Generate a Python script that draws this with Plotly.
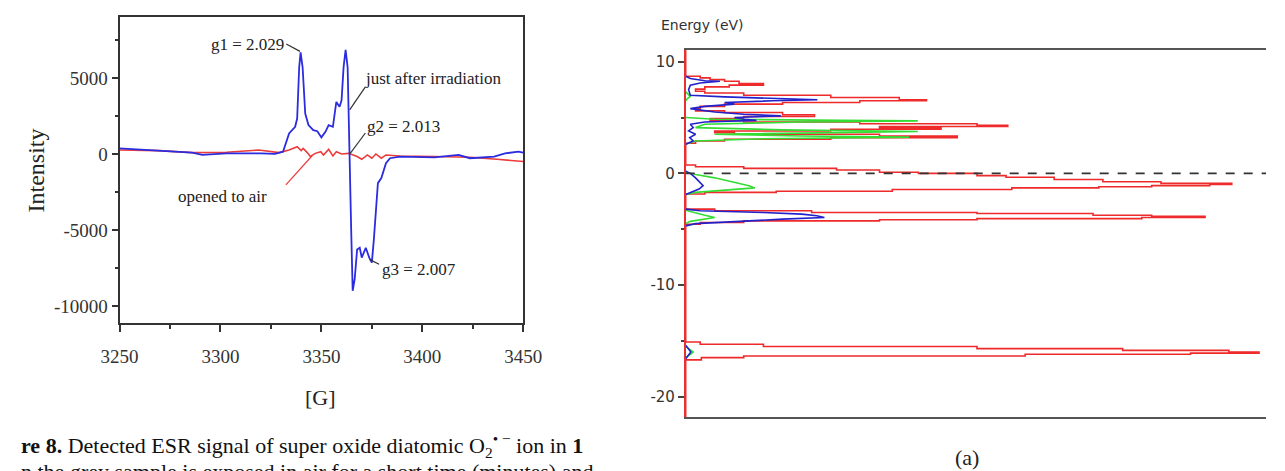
import plotly.graph_objects as go

# ---------------- ESR spectrum (left panel) ----------------
field_irr = [3250, 3268.9, 3286, 3291, 3303, 3320, 3327, 3331, 3334, 3337, 3338, 3339, 3339.7,
             3340.7, 3342, 3343.6, 3346, 3348, 3350, 3352, 3353.6, 3355.7, 3357.4, 3359, 3360,
             3361, 3362, 3363, 3363.4, 3364, 3364.8, 3365.5, 3366.5, 3367.7, 3369, 3370, 3372,
             3373.7, 3375, 3376, 3378, 3379.7, 3382, 3384, 3389, 3406, 3418, 3423.5, 3435.6,
             3441, 3447.6, 3450]
int_irr = [370, 220, 90, -65, 40, 40, 0, 150, 1350, 1790, 2330, 5700, 6690,
           5700, 2660, 1900, 1570, 1500, 1090, 1460, 1900, 1790, 3420, 3100, 3530,
           5710, 6850, 5700, 2880, -170, -5190, -9000, -8240, -6280, -6170, -6820, -6170,
           -6820, -7150, -5620, -1920, -1590, -610, -280, -170, -220, -65, -280, -170,
           40, 150, 90]

field_air = [3250, 3269, 3286, 3303, 3319, 3329, 3334, 3338, 3340, 3341, 3343, 3344.5, 3347,
             3349.7, 3351, 3353.6, 3355.7, 3357.4, 3360, 3363.4, 3367.7, 3370, 3372.8, 3375,
             3377, 3379.7, 3382, 3389, 3406, 3423.5, 3437, 3450]
int_air = [260, 220, 90, 110, 260, 90, 260, 480, 220, 370, 90, -170, 40,
           150, -65, 300, -130, 150, 0, 40, -170, -350, -65, -280,
           0, -280, -65, -130, -170, -220, -350, -500]

esr_xticks = [3250, 3300, 3350, 3400, 3450]
esr_yticks = [5000, 0, -5000, -10000]

# ---------------- DOS (right panel) ----------------
energy_total = [11.05, 8.7, 8.55, 8.4, 8.25, 8.05, 7.9, 7.75, 7.55, 7.35, 7.2, 7.0, 6.8, 6.6, 6.5,
                6.35, 6.2, 6.0, 5.8, 5.6, 5.45, 5.25, 5.1, 4.9, 4.75, 4.6, 4.45, 4.3, 4.2, 4.05,
                3.95, 3.8, 3.65, 3.5, 3.35, 3.2, 3.05, 2.9, 2.7, 2.5,
                0.75, 0.6, 0.45, 0.3, 0.1, 0.0, -0.2, -0.35, -0.55, -0.75, -0.9, -1.0, -1.1,
                -1.2, -1.3, -1.45, -1.6, -1.7, -1.85, -2.0,
                -3.2, -3.35, -3.5, -3.6, -3.75, -3.85, -3.95, -4.05, -4.15, -4.25, -4.4, -4.55, -4.7,
                -15.1, -15.3, -15.5, -15.7, -15.85, -16.0, -16.1, -16.2, -16.35, -16.5, -16.7,
                -16.9, -21.82]
dos_total = [0, 0, 2.5, 4.2, 6.7, 9.2, 13.4, 7.5, 3.3, 1.7, 3.3, 10, 25, 36.8, 41.5,
             30, 16.7, 6.7, 2.5, 1.7, 6.7, 16.7, 22.2, 10, 4.2, 10, 30, 50.2, 55.5, 33.4,
             44, 25, 5, 8.4, 33.4, 46.8, 25, 6.7, 1.7, 0,
             0, 1.7, 10, 26, 33.4, 40.1, 50.2, 55.2, 63.5, 71.9, 81.9, 94.1, 90.3,
             80.3, 71.2, 56.2, 35.6, 15.6, 3.3, 0,
             0, 5, 21.7, 50.2, 70.2, 80.3, 89.5, 78.6, 50.2, 33.4, 10, 2.5, 0,
             0, 2.5, 13.4, 50.2, 75.3, 93.6, 98.8, 87, 58.5, 10, 2.7,
             0, 0]

energy_blue = [8.7, 8.5, 8.3, 8.25, 8.1, 7.9, 7.5, 7.0, 6.85, 6.7, 6.6, 6.5, 6.35, 6.2, 6.0, 5.8,
               5.5, 5.3, 5.15, 5.0, 4.85, 4.75, 4.6, 4.4, 4.1, 3.8, 3.5, 3.2, 2.9, 2.6, None,
               0.2, 0.0, -0.4, -0.8, -1.1, -1.4, -1.7, -1.9, None,
               -3.2, -3.35, -3.5, -3.65, -3.8, -3.95, -4.1, -4.3, -4.5, -4.7, None,
               -15.4, -15.8, -16.0, -16.2, -16.6]
dos_blue = [0, 0.8, 3.3, 5.9, 2.5, 0.8, 0.5, 0.8, 6.7, 16.7, 22.7, 15, 6.7, 8.4, 3.3, 0.8,
            5, 10, 16.4, 8.4, 10, 12.2, 3.3, 0.8, 1.3, 0.5, 1.7, 0.7, 1.3, 0, None,
            0, 0.8, 1.7, 2.5, 3, 2.3, 0.8, 0, None,
            0, 2.5, 13.4, 20, 22.6, 23.9, 16.7, 8.4, 1.7, 0, None,
            0, 0.6, 0.9, 0.6, 0]

energy_green = [7.3, 7.1, 6.9, 6.7, 6.5, None,
                5.0, 4.85, 4.75, 4.7, 4.6, 4.4, 4.1, 3.9, 3.75, 3.65, 3.5, 3.35, 3.25, 3.1, 2.9, 2.6, None,
                0.1, -0.1, -0.4, -0.8, -1.1, -1.3, -1.5, -1.7, -1.9, None,
                -3.3, -3.5, -3.75, -3.95, -4.1, -4.3, -4.5, None,
                -15.5, -15.8, -16.0, -16.2, -16.5]
dos_green = [0, 0.5, 0.8, 0.3, 0, None,
             0, 5, 26.7, 40, 20, 3.3, 1.7, 16.7, 40, 28.4, 5, 20, 38.5, 13.4, 1.7, 0, None,
             0, 1.7, 5, 8.4, 10.9, 11.9, 6.7, 1.7, 0, None,
             0, 1.3, 3.3, 5, 3.3, 0.8, 0, None,
             0, 0.8, 1.3, 0.8, 0]

dos_yticks = [10, 0, -10, -20]

SERIF = "Liberation Serif"
SANS = "DejaVu Sans"
W, H = 1285, 471

fig = go.Figure()

# ESR traces
fig.add_trace(go.Scatter(x=field_air, y=int_air, mode="lines",
                         line=dict(color="#ec3b3b", width=1.6), xaxis="x", yaxis="y",
                         showlegend=False))
fig.add_trace(go.Scatter(x=field_irr, y=int_irr, mode="lines",
                         line=dict(color="#2b2be0", width=1.8), xaxis="x", yaxis="y",
                         showlegend=False))

# DOS traces
fig.add_trace(go.Scatter(x=dos_total, y=energy_total, mode="lines", line_shape="hv",
                         line=dict(color="#ee2a2a", width=1.6), xaxis="x2", yaxis="y2",
                         showlegend=False))
fig.add_trace(go.Scatter(x=dos_green, y=energy_green, mode="lines",
                         line=dict(color="#33dd33", width=1.6), xaxis="x2", yaxis="y2",
                         connectgaps=False, showlegend=False))
fig.add_trace(go.Scatter(x=dos_blue, y=energy_blue, mode="lines",
                         line=dict(color="#2222cc", width=1.6), xaxis="x2", yaxis="y2",
                         connectgaps=False, showlegend=False))

axis_col = "#333333"
fig.update_layout(
    width=W, height=H, margin=dict(l=0, r=0, t=0, b=0),
    paper_bgcolor="white", plot_bgcolor="white",
    xaxis=dict(domain=[103.6 / W, 519.6 / W], range=[3250, 3450], anchor="y",
               tickvals=esr_xticks, ticktext=[str(v) for v in esr_xticks],
               ticks="outside", ticklen=7, tickwidth=1.5,
               tickcolor=axis_col, showline=True, linecolor=axis_col, linewidth=1.8,
               mirror=True, showgrid=False, zeroline=False, ticklabelstandoff=8,
               minor=dict(dtick=25, ticks="outside", ticklen=4, tickcolor=axis_col),
               tickfont=dict(family=SERIF, size=19, color="#333")),
    yaxis=dict(domain=[1 - 323.3 / H, 1 - 16.7 / H], range=[-11140, 9030], anchor="x",
               tickvals=esr_yticks, ticktext=[str(v) for v in esr_yticks],
               ticks="outside", ticklen=6, tickwidth=1.5, tickcolor=axis_col,
               showline=True, linecolor=axis_col, linewidth=1.8, mirror=True,
               showgrid=False, zeroline=False,
               minor=dict(dtick=2500, ticks="outside", ticklen=3, tickcolor=axis_col),
               tickfont=dict(family=SERIF, size=19, color="#333")),
    xaxis2=dict(domain=[687 / W, 1.0], range=[0, 100], anchor="y2",
                showticklabels=False, ticks="",
                showline=True, linecolor="#555555", linewidth=2, mirror=True,
                showgrid=False, zeroline=False),
    yaxis2=dict(domain=[1 - 417 / H, 1 - 50 / H], range=[-21.82, 11.05], anchor="x2",
                tickvals=dos_yticks, ticktext=[str(v) for v in dos_yticks],
                ticks="outside", ticklen=6, tickwidth=1.5,
                tickcolor="#444444", showline=True, linecolor="#e83030", linewidth=1.6,
                showgrid=False, zeroline=False,
                minor=dict(dtick=5, ticks="outside", ticklen=3, tickcolor="#444444"),
                tickfont=dict(family=SANS, size=15, color="#333")),
)

# Fermi level dashed line
fig.add_shape(type="line", xref="x2 domain", x0=0, x1=1, yref="y2", y0=0, y1=0,
              line=dict(color="#333333", width=1.6, dash="dash"))


def ann(text, x, y, xanchor="center", size=17, xref="x", yref="y", family=SERIF, color="#222",
        **kw):
    fig.add_annotation(text=text, x=x, y=y, xref=xref, yref=yref, xanchor=xanchor,
                       yanchor="middle", showarrow=False,
                       font=dict(family=family, size=size, color=color), **kw)


def leader(x0, y0, x1, y1, color="#333"):
    fig.add_shape(type="line", xref="x", yref="y", x0=x0, y0=y0, x1=x1, y1=y1,
                  line=dict(color=color, width=1.2))


# ESR labels
ann("g1 = 2.029", 3332.4, 7170, xanchor="right")
leader(3332.6, 7240, 3339.4, 6750)
ann("just after irradiation", 3370.6, 4935, xanchor="left")
leader(3371.8, 4410, 3364.0, 2895)
ann("g2 = 2.013", 3371.6, 1777, xanchor="left")
leader(3371.8, 1380, 3364.1, 0)
ann("opened to air", 3324.0, -2830, xanchor="right")
leader(3332.4, -2040, 3345.5, -100, color="#ec3b3b")
ann("g3 = 2.007", 3379.0, -7630, xanchor="left")
leader(3378.6, -7250, 3374.0, -6950)

ann("Intensity", 18 / W, 1 - 170 / H, xref="paper", yref="paper", size=24, textangle=-90)
ann("[G]", 311 / W, 1 - 397 / H, xref="paper", yref="paper", size=22)

# Caption (cropped at the picture's edges, as in the reference)
ann("<b>re 8.</b> Detected ESR signal of super oxide diatomic O<sub>2</sub><sup>• −</sup> ion in <b>1</b>",
    0.0, 1 - 445 / H, xanchor="left", xref="paper", yref="paper", size=22, color="#111")
ann("n the grey sample is exposed in air for a short time (minutes) and",
    0.0, 1 - 471 / H, xanchor="left", xref="paper", yref="paper", size=22, color="#111")

# DOS labels
ann("Energy (eV)", 660 / W, 1 - 25 / H, xanchor="left", xref="paper", yref="paper",
    family=SANS, size=14, color="#333")
ann("(a)", 977 / W, 1 - 457 / H, xref="paper", yref="paper", size=22, color="#222")

fig.write_html("out.html")
